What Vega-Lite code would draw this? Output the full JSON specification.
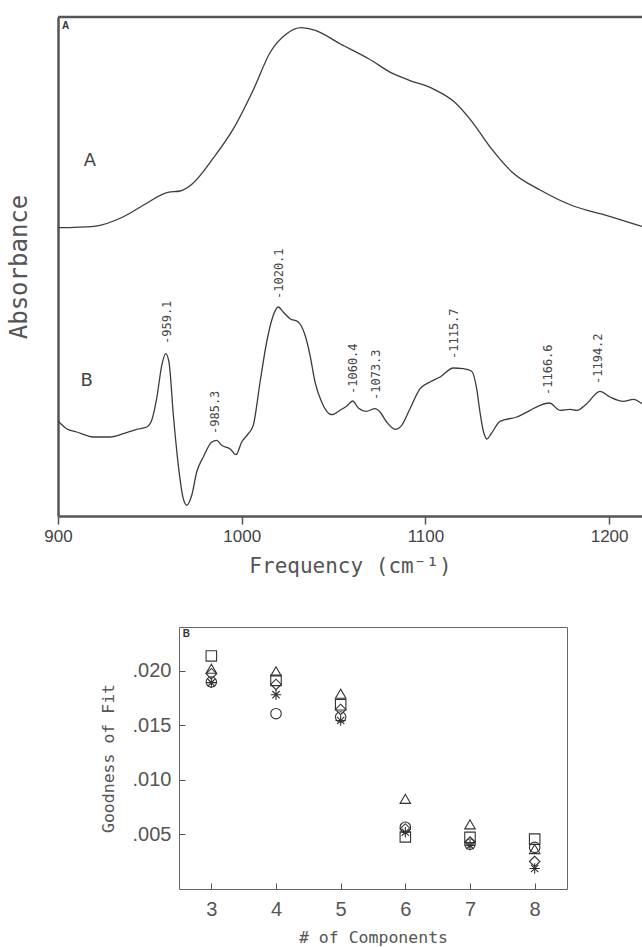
{
  "$schema": "https://vega.github.io/schema/vega-lite/v6.json",
  "background": "white",
  "padding": {"left": 7, "top": 15, "right": 0, "bottom": 0},
  "config": {"view": {"stroke": null}, "axis": {"grid": false}},
  "datasets": {
    "curveA": [
      {"f": 900, "v": 288.3}, {"f": 919.7, "v": 289.7}, {"f": 935.3, "v": 299}, {"f": 946.4, "v": 310.7},
      {"f": 959.8, "v": 323.7}, {"f": 966.5, "v": 325}, {"f": 973.2, "v": 332.3}, {"f": 984.3, "v": 357.3},
      {"f": 995.5, "v": 387.3}, {"f": 1006.6, "v": 427.3}, {"f": 1015.6, "v": 464}, {"f": 1024.5, "v": 482.3},
      {"f": 1032.3, "v": 488.3}, {"f": 1040.1, "v": 485.7}, {"f": 1053.5, "v": 472.3}, {"f": 1069.1, "v": 457.3},
      {"f": 1082.4, "v": 442.3}, {"f": 1091.3, "v": 435.7}, {"f": 1104.7, "v": 426.7}, {"f": 1115.8, "v": 414},
      {"f": 1124.8, "v": 395.7}, {"f": 1135.9, "v": 367.3}, {"f": 1147.1, "v": 344}, {"f": 1162.7, "v": 325.7},
      {"f": 1180.5, "v": 310}, {"f": 1198.4, "v": 300.7}, {"f": 1217.9, "v": 289.5}
    ],
    "curveB": [
      {"f": 900, "v": 95}, {"f": 904.7, "v": 87.3}, {"f": 910.2, "v": 84}, {"f": 919.2, "v": 79},
      {"f": 928.3, "v": 79}, {"f": 935.5, "v": 82.3}, {"f": 942.8, "v": 86.7}, {"f": 948.3, "v": 89},
      {"f": 951, "v": 95.7}, {"f": 953.7, "v": 117.3}, {"f": 956.5, "v": 150.7}, {"f": 958.6, "v": 162.3},
      {"f": 960.4, "v": 154}, {"f": 962.8, "v": 100.7}, {"f": 965.5, "v": 50.7}, {"f": 968.2, "v": 17.3},
      {"f": 970.1, "v": 10.7}, {"f": 972.8, "v": 20.7}, {"f": 975.5, "v": 44}, {"f": 979.1, "v": 59},
      {"f": 983.7, "v": 74}, {"f": 986.4, "v": 75.7}, {"f": 989.1, "v": 70.7}, {"f": 993.6, "v": 67.3},
      {"f": 996.9, "v": 61.3}, {"f": 1000, "v": 74}, {"f": 1003.6, "v": 82.3}, {"f": 1006.3, "v": 90.7},
      {"f": 1010, "v": 134}, {"f": 1013.6, "v": 174}, {"f": 1017.2, "v": 200.7}, {"f": 1019.9, "v": 209},
      {"f": 1022.6, "v": 204}, {"f": 1026.3, "v": 197.3}, {"f": 1030.8, "v": 194}, {"f": 1034.5, "v": 180.7},
      {"f": 1037.2, "v": 160.7}, {"f": 1039.9, "v": 134}, {"f": 1043.5, "v": 114}, {"f": 1049, "v": 101.3},
      {"f": 1053.5, "v": 105.7}, {"f": 1057.2, "v": 110}, {"f": 1060.4, "v": 115}, {"f": 1063.5, "v": 108},
      {"f": 1067.7, "v": 104.7}, {"f": 1072.6, "v": 107.3}, {"f": 1075.3, "v": 104}, {"f": 1078.9, "v": 94},
      {"f": 1083.5, "v": 86.7}, {"f": 1087.1, "v": 90.7}, {"f": 1091.6, "v": 107.3}, {"f": 1097.1, "v": 127.3},
      {"f": 1102.5, "v": 134}, {"f": 1108, "v": 139}, {"f": 1115.2, "v": 148}, {"f": 1120.6, "v": 147.3},
      {"f": 1125.2, "v": 144.7}, {"f": 1127.9, "v": 127.3}, {"f": 1129.7, "v": 104}, {"f": 1131.4, "v": 86},
      {"f": 1133.5, "v": 77}, {"f": 1135.7, "v": 82}, {"f": 1140.6, "v": 94.7}, {"f": 1149.7, "v": 99},
      {"f": 1157, "v": 105.7}, {"f": 1162.4, "v": 110.7}, {"f": 1167.5, "v": 113}, {"f": 1173.3, "v": 105.7},
      {"f": 1178.8, "v": 106.7}, {"f": 1182.4, "v": 105.7}, {"f": 1187.8, "v": 112.3}, {"f": 1195, "v": 124.7},
      {"f": 1200.5, "v": 119}, {"f": 1207.7, "v": 114.7}, {"f": 1213.2, "v": 116.7}, {"f": 1217.9, "v": 112.3}
    ],
    "peaks": [
      {"f": 959.1, "v": 172, "label": "-959.1"},
      {"f": 985.3, "v": 82, "label": "-985.3"},
      {"f": 1020.1, "v": 217, "label": "-1020.1"},
      {"f": 1060.4, "v": 122, "label": "-1060.4"},
      {"f": 1073.3, "v": 116, "label": "-1073.3"},
      {"f": 1115.7, "v": 157, "label": "-1115.7"},
      {"f": 1166.6, "v": 121, "label": "-1166.6"},
      {"f": 1194.2, "v": 132, "label": "-1194.2"}
    ],
    "names": [
      {"f": 917.4, "v": 354.7, "label": "A"},
      {"f": 915.6, "v": 134.7, "label": "B"}
    ],
    "fit": [
      {"n": 3, "g": 0.02135, "s": "s1"}, {"n": 3, "g": 0.02018, "s": "s2"}, {"n": 3, "g": 0.01972, "s": "s3"}, {"n": 3, "g": 0.01896, "s": "s4"}, {"n": 3, "g": 0.0189, "s": "s5"},
      {"n": 4, "g": 0.01911, "s": "s1"}, {"n": 4, "g": 0.01994, "s": "s2"}, {"n": 4, "g": 0.01874, "s": "s3"}, {"n": 4, "g": 0.01606, "s": "s4"}, {"n": 4, "g": 0.0178, "s": "s5"},
      {"n": 5, "g": 0.01688, "s": "s1"}, {"n": 5, "g": 0.01789, "s": "s2"}, {"n": 5, "g": 0.01645, "s": "s3"}, {"n": 5, "g": 0.01575, "s": "s4"}, {"n": 5, "g": 0.01544, "s": "s5"},
      {"n": 6, "g": 0.00477, "s": "s1"}, {"n": 6, "g": 0.00826, "s": "s2"}, {"n": 6, "g": 0.0055, "s": "s3"}, {"n": 6, "g": 0.00566, "s": "s4"}, {"n": 6, "g": 0.0052, "s": "s5"},
      {"n": 7, "g": 0.00473, "s": "s1"}, {"n": 7, "g": 0.00592, "s": "s2"}, {"n": 7, "g": 0.0043, "s": "s3"}, {"n": 7, "g": 0.0041, "s": "s4"}, {"n": 7, "g": 0.004, "s": "s5"},
      {"n": 8, "g": 0.00457, "s": "s1"}, {"n": 8, "g": 0.00366, "s": "s2"}, {"n": 8, "g": 0.00252, "s": "s3"}, {"n": 8, "g": 0.00381, "s": "s4"}, {"n": 8, "g": 0.00188, "s": "s5"}
    ]
  },
  "spacing": 50,
  "vconcat": [
    {
      "width": 584,
      "height": 499,
      "layer": [
        {
          "data": {"name": "curveA"},
          "mark": {"type": "line", "color": "#3c3c3c", "strokeWidth": 1.3, "interpolate": "monotone"},
          "encoding": {
            "x": {"field": "f", "type": "quantitative",
              "scale": {"domain": [900, 1217.9], "nice": false, "zero": false},
              "axis": {"values": [900, 1000, 1100, 1200], "format": "d", "title": "Frequency (cm⁻¹)",
                "titleFont": "DejaVu Sans Mono", "titleFontSize": 21, "titleFontWeight": "normal", "titleColor": "#555", "titlePadding": 11,
                "labelFont": "Liberation Sans", "labelFontSize": 17, "labelColor": "#444", "labelPadding": 4, "labelFlush": false, "labelOverlap": false,
                "tickSize": 8, "tickColor": "#555", "tickWidth": 1.5, "domainColor": "#555", "domainWidth": 2.5}},
            "y": {"field": "v", "type": "quantitative",
              "scale": {"domain": [0, 499], "nice": false, "zero": false},
              "axis": {"title": "Absorbance", "ticks": false, "labels": false, "domainColor": "#555", "domainWidth": 2.5,
                "titleFont": "DejaVu Sans Mono", "titleFontSize": 24, "titleFontWeight": "normal", "titleColor": "#555", "titlePadding": 27}}
          }
        },
        {
          "data": {"name": "curveB"},
          "mark": {"type": "line", "color": "#3c3c3c", "strokeWidth": 1.3, "interpolate": "monotone"},
          "encoding": {
            "x": {"field": "f", "type": "quantitative"},
            "y": {"field": "v", "type": "quantitative"}
          }
        },
        {
          "data": {"name": "peaks"},
          "mark": {"type": "text", "angle": 270, "align": "left", "baseline": "middle", "font": "DejaVu Sans Mono", "fontSize": 12, "color": "#444"},
          "encoding": {
            "x": {"field": "f", "type": "quantitative"},
            "y": {"field": "v", "type": "quantitative"},
            "text": {"field": "label"}
          }
        },
        {
          "data": {"name": "names"},
          "mark": {"type": "text", "align": "center", "baseline": "middle", "font": "DejaVu Sans", "fontSize": 18, "color": "#444"},
          "encoding": {
            "x": {"field": "f", "type": "quantitative"},
            "y": {"field": "v", "type": "quantitative"},
            "text": {"field": "label"}
          }
        },
        {
          "data": {"values": [{"f": 904.1, "v": 490.3, "label": "A"}]},
          "mark": {"type": "text", "align": "center", "baseline": "middle", "font": "Liberation Sans", "fontWeight": "bold", "fontSize": 10, "color": "#333"},
          "encoding": {
            "x": {"field": "f", "type": "quantitative"},
            "y": {"field": "v", "type": "quantitative"},
            "text": {"field": "label"}
          }
        },
        {
          "data": {"values": [{"top": 499}]},
          "mark": {"type": "rule", "color": "#555", "strokeWidth": 2.5},
          "encoding": {"y": {"field": "top", "type": "quantitative"}}
        }
      ]
    },
    {
      "spacing": 0,
      "hconcat": [
        {
          "width": 41,
          "height": 262,
          "view": {"fill": "white", "stroke": null},
          "data": {"values": []},
          "mark": "point"
        },
        {
          "width": 388,
          "height": 262,
          "view": {"stroke": "#666", "strokeWidth": 1},
          "layer": [
            {
              "data": {"name": "fit"},
              "mark": {"type": "point", "filled": false, "strokeWidth": 1.1, "color": "#333", "size": 110, "opacity": 1},
              "encoding": {
                "x": {"field": "n", "type": "quantitative",
                  "scale": {"domain": [2.5, 8.5], "nice": false, "zero": false},
                  "axis": {"values": [3, 4, 5, 6, 7, 8], "format": "d", "title": "# of Components", "domain": false,
                    "tickSize": -6, "tickColor": "#555", "labelPadding": 16, "labelFont": "Liberation Sans Narrow, Liberation Sans", "labelFontSize": 20, "labelColor": "#555",
                    "titleFont": "DejaVu Sans Mono", "titleFontSize": 16.5, "titleFontWeight": "normal", "titleColor": "#555", "titlePadding": 10}},
                "y": {"field": "g", "type": "quantitative",
                  "scale": {"domain": [0, 0.024], "nice": false, "zero": false},
                  "axis": {"values": [0.005, 0.01, 0.015, 0.02], "labelExpr": "substring(format(datum.value, '.3f'), 1)", "title": "Goodness of Fit", "domain": false,
                    "tickSize": -6, "tickColor": "#555", "labelPadding": 14, "labelFont": "Liberation Sans Narrow, Liberation Sans", "labelFontSize": 20, "labelColor": "#555",
                    "titleFont": "DejaVu Sans Mono", "titleFontSize": 16.5, "titleFontWeight": "normal", "titleColor": "#555", "titlePadding": 16}},
                "shape": {"field": "s", "type": "nominal",
                  "scale": {"domain": ["s1", "s2", "s3", "s4", "s5"], "range": ["square", "triangle-up", "diamond", "circle", "M-1,0L1,0M0,-1L0,1M-0.7,-0.7L0.7,0.7M-0.7,0.7L0.7,-0.7"]},
                  "legend": null}
              }
            },
            {
              "data": {"values": [{"n": 2.613, "g": 0.02337, "label": "B"}]},
              "mark": {"type": "text", "align": "center", "baseline": "middle", "font": "Liberation Sans", "fontWeight": "bold", "fontSize": 10, "color": "#333"},
              "encoding": {
                "x": {"field": "n", "type": "quantitative"},
                "y": {"field": "g", "type": "quantitative"},
                "text": {"field": "label"}
              }
            }
          ]
        }
      ]
    }
  ]
}
